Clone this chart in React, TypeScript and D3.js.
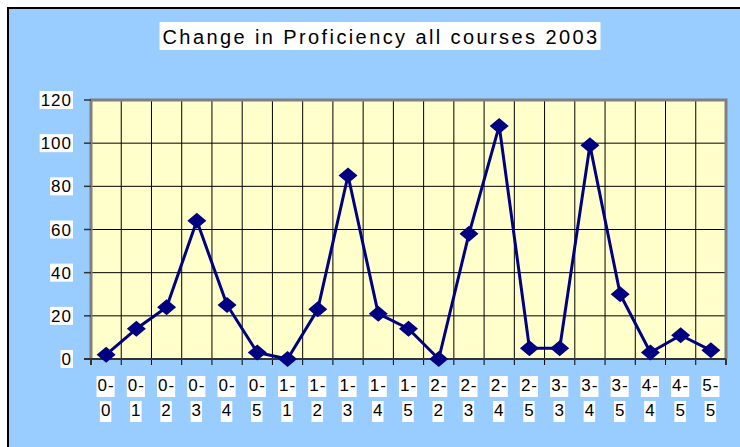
import { useEffect, useRef } from "react";
import * as d3 from "d3";

const categories = [
  "0-0", "0-1", "0-2", "0-3", "0-4", "0-5", "1-1", "1-2", "1-3", "1-4", "1-5",
  "2-2", "2-3", "2-4", "2-5", "3-3", "3-4", "3-5", "4-4", "4-5", "5-5",
];
const values = [2, 14, 24, 64, 25, 3, 0, 23, 85, 21, 14, 0, 58, 108, 5, 5, 99, 30, 3, 11, 4];
const yTicks = [0, 20, 40, 60, 80, 100, 120];
const title = "Change in Proficiency all courses 2003";

const W = 740;
const H = 447;

const App = () => {
  const svgRef = useRef<SVGSVGElement | null>(null);

  useEffect(() => {
    const svg = d3.select(svgRef.current);
    svg.selectAll("*").remove();
    const plot = { left: 91, right: 726, top: 100, bottom: 359 };
    const font = "Arial, 'Liberation Sans', sans-serif";

    // background + outer border
    svg.append("rect").attr("x", 0).attr("y", 0).attr("width", W).attr("height", H).attr("fill", "#fff");
    svg.append("rect").attr("x", 8).attr("y", 8).attr("width", W + 10).attr("height", H + 10)
      .attr("fill", "#99ccff").attr("stroke", "#000").attr("stroke-width", 2);

    const x = d3.scaleBand<string>().domain(categories).range([plot.left, plot.right]);
    const y = d3.scaleLinear().domain([0, 120]).range([plot.bottom, plot.top]);

    // title with white box
    const tg = svg.append("g");
    const tt = tg.append("text")
      .attr("x", 381).attr("y", 44)
      .attr("text-anchor", "middle")
      .attr("font-family", font).attr("font-size", 20)
      .attr("letter-spacing", 2.4)
      .attr("fill", "#000")
      .text(title);
    const tb = (tt.node() as SVGTextElement).getBBox();
    tg.insert("rect", "text").attr("x", tb.x - 3).attr("y", 22).attr("width", tb.width + 4).attr("height", 28).attr("fill", "#fff");

    // plot area
    svg.append("rect").attr("x", plot.left).attr("y", plot.top)
      .attr("width", plot.right - plot.left).attr("height", plot.bottom - plot.top)
      .attr("fill", "#ffffcc");

    // horizontal gridlines
    svg.append("g").selectAll("line").data(yTicks.slice(1, -1)).join("line")
      .attr("x1", plot.left).attr("x2", plot.right)
      .attr("y1", (d) => y(d)).attr("y2", (d) => y(d))
      .attr("stroke", "#000").attr("stroke-width", 1);

    // vertical gridlines at category boundaries
    const bounds = categories.map((c) => x(c)!).slice(1);
    svg.append("g").selectAll("line").data(bounds).join("line")
      .attr("x1", (d) => d).attr("x2", (d) => d)
      .attr("y1", plot.top).attr("y2", plot.bottom + 6)
      .attr("stroke", "#000").attr("stroke-width", 1);

    // plot border (grey top/right/left)
    svg.append("path")
      .attr("d", `M${plot.left},${plot.bottom}V${plot.top}H${plot.right}V${plot.bottom}`)
      .attr("fill", "none").attr("stroke", "#808080").attr("stroke-width", 3);
    svg.append("line").attr("x1", plot.left - 7).attr("x2", plot.right)
      .attr("y1", plot.bottom).attr("y2", plot.bottom)
      .attr("stroke", "#333").attr("stroke-width", 2);
    svg.append("line").attr("x1", plot.left).attr("x2", plot.left)
      .attr("y1", plot.bottom).attr("y2", plot.bottom + 6).attr("stroke", "#333").attr("stroke-width", 2);
    svg.append("line").attr("x1", plot.right).attr("x2", plot.right)
      .attr("y1", plot.bottom).attr("y2", plot.bottom + 6).attr("stroke", "#333").attr("stroke-width", 2);

    // y ticks and labels
    const yg = svg.append("g").selectAll("g").data(yTicks).join("g")
      .attr("transform", (d) => `translate(0,${y(d)})`);
    yg.append("line").attr("x1", plot.left - 7).attr("x2", plot.left).attr("stroke", "#333").attr("stroke-width", 1.5);
    yg.each(function (d) {
      const g = d3.select(this);
      const t = g.append("text")
        .attr("x", 72).attr("y", 6)
        .attr("text-anchor", "end")
        .attr("font-family", font).attr("font-size", 17)
        .attr("letter-spacing", 1)
        .text(String(d));
      const b = (t.node() as SVGTextElement).getBBox();
      g.insert("rect", "text").attr("x", b.x - 1).attr("y", -9).attr("width", b.width + 2).attr("height", 18).attr("fill", "#fff");
    });

    // x labels (two lines each)
    const xg = svg.append("g").selectAll("g").data(categories).join("g")
      .attr("transform", (d) => `translate(${x(d)! + x.bandwidth() / 2},0)`);
    xg.each(function (d) {
      const g = d3.select(this);
      const [a, b] = d.split("-");
      [[a + "-", 391], [b, 416]].forEach(([s, yy]) => {
        const t = g.append("text")
          .attr("x", 0).attr("y", yy as number)
          .attr("text-anchor", "middle")
          .attr("font-family", font).attr("font-size", 17)
          .attr("letter-spacing", 1)
          .text(s as string);
        const bb = (t.node() as SVGTextElement).getBBox();
        g.insert("rect", "text").attr("x", bb.x - 1).attr("y", (yy as number) - 15).attr("width", bb.width + 1).attr("height", 21).attr("fill", "#fff");
      });
    });

    // series line
    const cx = (i: number) => x(categories[i])! + x.bandwidth() / 2;
    const line = d3.line<number>().x((_, i) => cx(i)).y((d) => y(d));
    svg.append("path").datum(values).attr("d", line)
      .attr("fill", "none").attr("stroke", "#000080").attr("stroke-width", 3)
      .attr("stroke-linejoin", "round");

    // diamond markers
    svg.append("g").selectAll("path").data(values).join("path")
      .attr("d", (d, i) => {
        const px = cx(i), py = y(d);
        return `M${px},${py - 8}L${px + 9.5},${py}L${px},${py + 8}L${px - 9.5},${py}Z`;
      })
      .attr("fill", "#000080");
  }, []);

  return <svg ref={svgRef} width={W} height={H} style={{ position: "absolute", left: 0, top: 0 }} />;
};

export default App;
